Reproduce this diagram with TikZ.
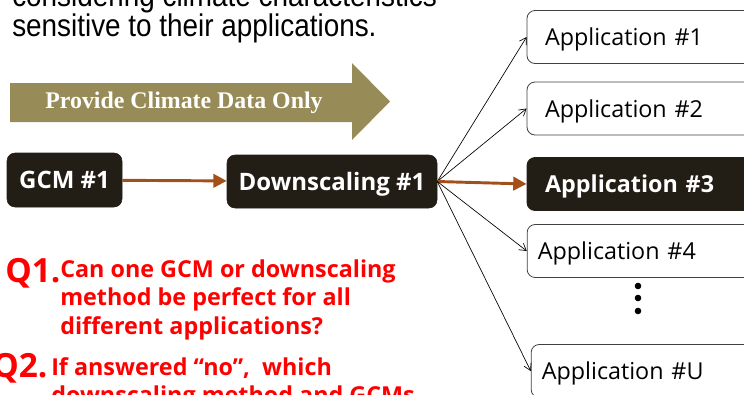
\documentclass[tikz,border=0pt]{standalone}
\usepackage{fontspec}
\setmainfont{Open Sans}
\newfontfamily\narrowsans{Liberation Sans}
\newfontfamily\titleserif{Liberation Serif}
\usepackage{xcolor}
\usepackage{tikz}
\usetikzlibrary{arrows.meta}
\definecolor{olivebar}{HTML}{978B57}
\definecolor{boxdark}{HTML}{221E16}
\definecolor{flowbrown}{HTML}{A24F1A}
\definecolor{qred}{HTML}{FF0000}
\tikzset{
  darkbox/.style={draw=boxdark, fill=boxdark, rounded corners=6pt, text=white, font=\bfseries\fontsize{18}{20}\selectfont, inner sep=0pt, text depth=0pt},
  appbox/.style={draw=black!75, fill=white, rounded corners=6pt, line width=0.6pt, minimum height=39.75pt, text width=155.25pt, inner xsep=13.5pt, inner ysep=0pt, text depth=0pt, align=left, font=\fontsize{17.5}{20}\selectfont},
  appdark/.style={appbox, draw=boxdark, fill=boxdark, text=white, font=\bfseries\fontsize{17.5}{20}\selectfont},
  link/.style={-{Straight Barb[length=5pt,width=6pt]}, draw=black, line width=0.5pt},
  flow/.style={-{Triangle[length=10pt,width=10pt]}, draw=flowbrown, line width=2.2pt},
  qnum/.style={text=qred, font=\bfseries\fontsize{25}{26}\selectfont, inner sep=0pt, anchor=base west},
  qtext/.style={text=qred, font=\bfseries\fontsize{17.5}{21.4}\selectfont, inner sep=0pt, align=left, anchor=north west},
  toptext/.style={font=\narrowsans\fontsize{23.5}{22.5}\selectfont, inner sep=0pt, align=left, anchor=south west}
}

\begin{document}
\begin{tikzpicture}[x=0.75pt, y=-0.75pt]
  \useasboundingbox (0,0) rectangle (744,394);
  \clip (0,0) rectangle (744,394);

  % heading text, cut by the frame
  \node[toptext] (head) at (12,43) {\scalebox{0.89}[1]{considering climate characteristics}\\\scalebox{0.89}[1]{sensitive to their applications.}};

  % big arrow
  \fill[olivebar] (10,83) -- (352,83) -- (352,63) -- (390,101.5) -- (352,140) -- (352,122) -- (10,122) -- cycle;
  \node[text=white, font=\titleserif\bfseries\fontsize{17.9}{20}\selectfont] (provide) at (184,103) {Provide Climate Data Only};

  % chain
  \node[darkbox, minimum width=86.25pt, minimum height=40.5pt] (gcm) at (64.5,180) {GCM \#1};
  \node[darkbox, minimum width=157.5pt, minimum height=39.75pt] (down) at (332,181.5) {Downscaling \#1};

  \node[appbox] (app1) at (648.5,37) {Application \#1};
  \node[appbox] (app2) at (648.5,108.5) {Application \#2};
  \node[appdark] (app3) at (648.5,184) {Application \#3};
  \node[appbox, inner xsep=8pt, text width=166pt] (app4) at (648.5,251) {Application \#4};
  \node[appbox, inner xsep=8pt, text width=166pt] (appU) at (652.5,371) {Application \#U};

  % dots between #4 and #U
  \foreach \yy in {286,298,311}
    \fill (638,\yy) circle[radius=3.3];

  \draw[flow] (gcm) -- (down);
  \draw[link] (down.east) -- (app1.west);
  \draw[link] (down.east) -- (app2.west);
  \draw[flow] (down.east) -- (app3.west);
  \draw[link] (down.east) -- (app4.west);
  \draw[link] (down.east) -- (appU.west);

  % questions
  \node[qnum] (q1) at (5,282) {Q1.};
  \node[qtext] (q1text) at (60,259) {Can one GCM or downscaling\\method be perfect for all\\different applications?};
  \node[qnum] (q2) at (-8,377) {Q2.};
  \node[qtext] (q2text) at (51,357) {If answered “no”,\ \ which\\downscaling method and GCMs};
\end{tikzpicture}
\end{document}
